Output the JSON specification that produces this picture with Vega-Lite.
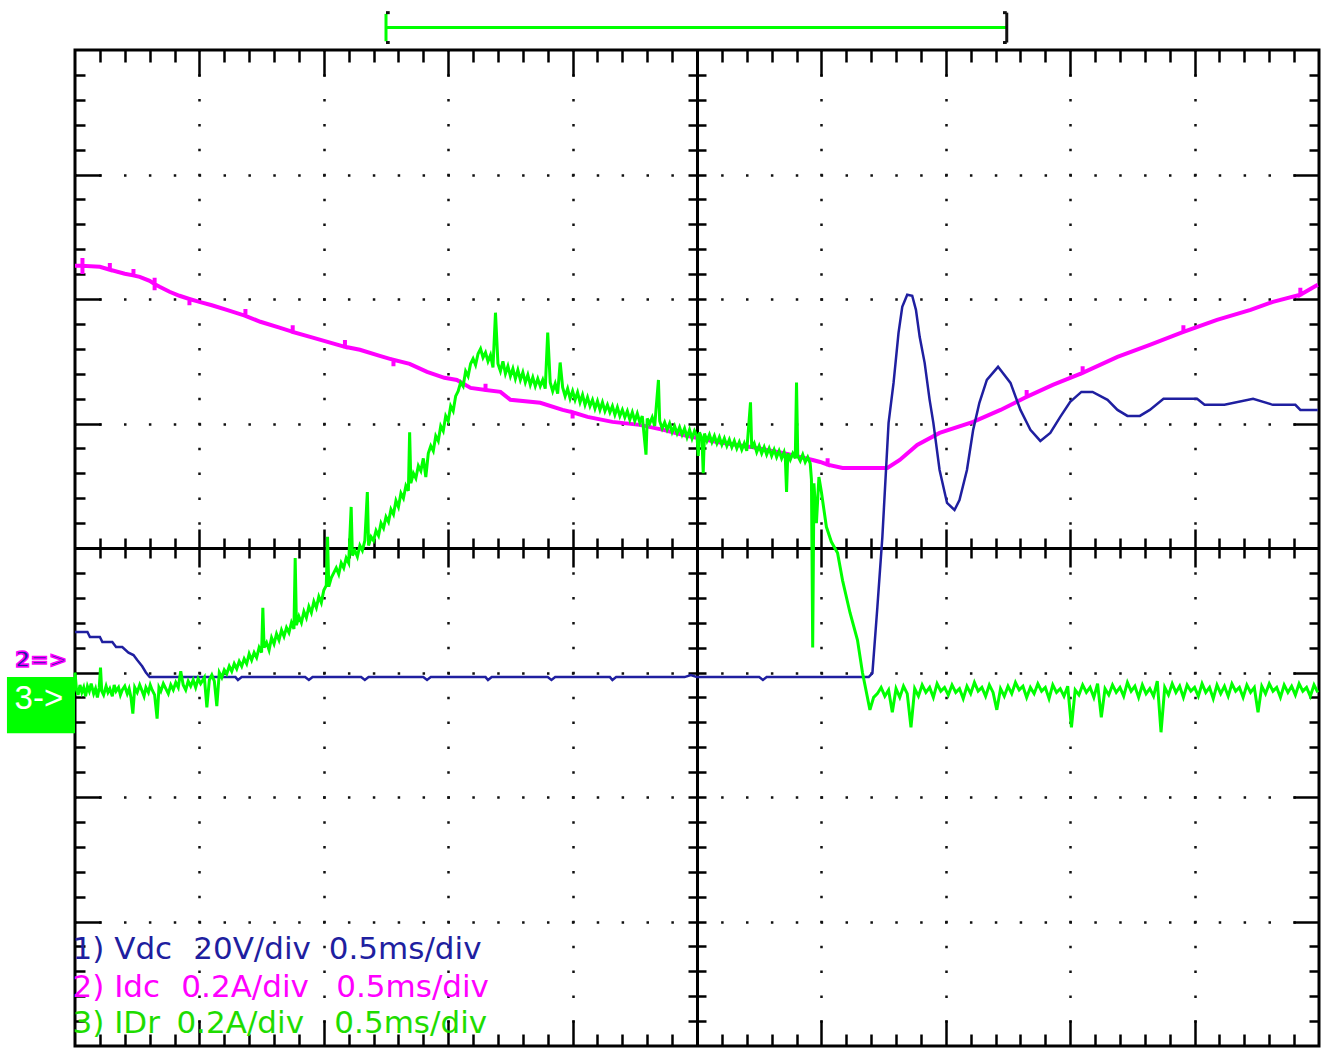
{
  "$schema": "https://vega.github.io/schema/vega-lite/v6.json",
  "width": 1244,
  "height": 996,
  "autosize": {"type": "none"},
  "padding": {"left": 75, "top": 50, "right": 13, "bottom": 2},
  "background": "white",
  "config": {"view": {"stroke": "#000", "strokeWidth": 3}},
  "datasets": {
    "vdc": [
      {"t":0,"v":-0.675},{"t":0.1,"v":-0.675},{"t":0.12,"v":-0.715},{"t":0.2,"v":-0.715},{"t":0.22,"v":-0.756},{"t":0.3,"v":-0.756},{"t":0.33,"v":-0.796},{"t":0.38,"v":-0.796},{"t":0.43,"v":-0.84},{"t":0.47,"v":-0.86},{"t":0.5,"v":-0.9},{"t":0.54,"v":-0.95},{"t":0.57,"v":-1.0},{"t":0.6,"v":-1.037},
      {"t":1.0,"v":-1.037},{"t":1.29,"v":-1.037},{"t":1.31,"v":-1.06},{"t":1.34,"v":-1.037},{"t":1.85,"v":-1.037},{"t":1.88,"v":-1.06},{"t":1.91,"v":-1.037},{"t":2.3,"v":-1.037},{"t":2.33,"v":-1.06},{"t":2.36,"v":-1.037},{"t":2.8,"v":-1.037},{"t":2.83,"v":-1.06},{"t":2.86,"v":-1.037},{"t":3.3,"v":-1.037},{"t":3.32,"v":-1.06},{"t":3.35,"v":-1.037},{"t":3.8,"v":-1.037},{"t":3.83,"v":-1.06},{"t":3.86,"v":-1.037},{"t":4.3,"v":-1.037},{"t":4.32,"v":-1.06},{"t":4.35,"v":-1.037},{"t":4.9,"v":-1.037},{"t":4.95,"v":-1.02},{"t":5.0,"v":-1.037},{"t":5.5,"v":-1.037},{"t":5.53,"v":-1.06},{"t":5.56,"v":-1.037},{"t":6.0,"v":-1.037},{"t":6.38,"v":-1.037},
      {"t":6.41,"v":-1.005},{"t":6.45,"v":-0.474},{"t":6.49,"v":0.088},{"t":6.54,"v":1.005},{"t":6.58,"v":1.326},{"t":6.62,"v":1.728},{"t":6.65,"v":1.937},{"t":6.69,"v":2.034},{"t":6.73,"v":2.026},{"t":6.76,"v":1.913},{"t":6.79,"v":1.696},{"t":6.83,"v":1.487},{"t":6.87,"v":1.19},{"t":6.9,"v":1.005},{"t":6.95,"v":0.627},{"t":7.01,"v":0.362},{"t":7.07,"v":0.305},{"t":7.11,"v":0.386},{"t":7.17,"v":0.627},{"t":7.22,"v":0.949},{"t":7.27,"v":1.166},{"t":7.33,"v":1.35},{"t":7.42,"v":1.455},{"t":7.52,"v":1.326},{"t":7.6,"v":1.109},{"t":7.68,"v":0.949},{"t":7.76,"v":0.86},{"t":7.84,"v":0.924},{"t":7.92,"v":1.053},{"t":8.0,"v":1.174},{"t":8.09,"v":1.254},{"t":8.18,"v":1.254},{"t":8.3,"v":1.19},{"t":8.38,"v":1.109},{"t":8.46,"v":1.061},{"t":8.56,"v":1.061},{"t":8.64,"v":1.109},{"t":8.75,"v":1.198},{"t":9.02,"v":1.198},{"t":9.08,"v":1.15},{"t":9.24,"v":1.15},{"t":9.47,"v":1.198},{"t":9.63,"v":1.15},{"t":9.81,"v":1.15},{"t":9.85,"v":1.109},{"t":9.99,"v":1.109}
    ],
    "idc": [
      {"t":0,"v":2.267},{"t":0.06,"v":2.267},{"t":0.06,"v":2.33},{"t":0.06,"v":2.2},{"t":0.06,"v":2.267},{"t":0.2,"v":2.259},{"t":0.28,"v":2.235},{"t":0.28,"v":2.29},{"t":0.28,"v":2.235},{"t":0.4,"v":2.203},{"t":0.47,"v":2.19},{"t":0.47,"v":2.24},{"t":0.47,"v":2.19},{"t":0.52,"v":2.178},{"t":0.6,"v":2.146},{"t":0.64,"v":2.12},{"t":0.64,"v":2.17},{"t":0.64,"v":2.07},{"t":0.64,"v":2.12},{"t":0.68,"v":2.098},{"t":0.76,"v":2.058},{"t":0.84,"v":2.026},{"t":0.92,"v":2.0},{"t":0.92,"v":1.95},{"t":0.92,"v":2.0},{"t":1.0,"v":1.977},{"t":1.1,"v":1.95},{"t":1.22,"v":1.913},{"t":1.37,"v":1.865},{"t":1.37,"v":1.92},{"t":1.37,"v":1.865},{"t":1.49,"v":1.817},{"t":1.65,"v":1.768},{"t":1.75,"v":1.736},{"t":1.75,"v":1.79},{"t":1.75,"v":1.736},{"t":1.89,"v":1.696},{"t":2.03,"v":1.656},{"t":2.17,"v":1.616},{"t":2.17,"v":1.67},{"t":2.17,"v":1.616},{"t":2.29,"v":1.592},{"t":2.45,"v":1.543},{"t":2.56,"v":1.511},{"t":2.56,"v":1.46},{"t":2.56,"v":1.511},{"t":2.69,"v":1.479},{"t":2.83,"v":1.415},{"t":2.97,"v":1.367},{"t":3.07,"v":1.35},{"t":3.18,"v":1.286},{"t":3.3,"v":1.27},{"t":3.3,"v":1.32},{"t":3.3,"v":1.27},{"t":3.42,"v":1.254},{"t":3.5,"v":1.19},{"t":3.74,"v":1.166},{"t":3.92,"v":1.109},{"t":4.0,"v":1.09},{"t":4.0,"v":1.04},{"t":4.0,"v":1.09},{"t":4.12,"v":1.053},{"t":4.32,"v":1.013},{"t":4.54,"v":0.989},{"t":4.73,"v":0.949},{"t":4.89,"v":0.908},{"t":5.16,"v":0.852},{"t":5.43,"v":0.812},{"t":5.69,"v":0.764},{"t":5.93,"v":0.707},{"t":5.99,"v":0.691},{"t":6.05,"v":0.67},{"t":6.05,"v":0.72},{"t":6.05,"v":0.67},{"t":6.17,"v":0.643},{"t":6.53,"v":0.643},{"t":6.63,"v":0.707},{"t":6.77,"v":0.828},{"t":6.95,"v":0.924},{"t":7.22,"v":1.013},{"t":7.44,"v":1.109},{"t":7.65,"v":1.214},{"t":7.65,"v":1.27},{"t":7.65,"v":1.214},{"t":7.86,"v":1.31},{"t":8.1,"v":1.407},{"t":8.1,"v":1.46},{"t":8.1,"v":1.407},{"t":8.38,"v":1.535},{"t":8.64,"v":1.632},{"t":8.91,"v":1.736},{"t":8.91,"v":1.79},{"t":8.91,"v":1.736},{"t":9.18,"v":1.833},{"t":9.45,"v":1.913},{"t":9.63,"v":1.977},{"t":9.85,"v":2.034},{"t":9.85,"v":2.09},{"t":9.85,"v":2.034},{"t":9.99,"v":2.114}
    ],
    "idr": [
      {"t":0.0,"v":-1.0},{"t":0.012,"v":-1.14},{"t":0.025,"v":-1.18},{"t":0.04,"v":-1.1},{"t":0.055,"v":-1.16},{"t":0.07,"v":-1.12},{"t":0.085,"v":-1.19},{"t":0.1,"v":-1.11},{"t":0.115,"v":-1.15},{"t":0.13,"v":-1.09},{"t":0.15,"v":-1.17},{"t":0.165,"v":-1.13},{"t":0.18,"v":-1.2},{"t":0.195,"v":-1.12},{"t":0.205,"v":-0.96},{"t":0.215,"v":-1.15},{"t":0.23,"v":-1.18},{"t":0.25,"v":-1.11},{"t":0.265,"v":-1.16},{"t":0.28,"v":-1.13},{"t":0.3,"v":-1.19},{"t":0.315,"v":-1.1},{"t":0.33,"v":-1.15},{"t":0.35,"v":-1.12},{"t":0.365,"v":-1.18},{"t":0.38,"v":-1.14},{"t":0.4,"v":-1.11},{"t":0.42,"v":-1.17},{"t":0.435,"v":-1.13},{"t":0.45,"v":-1.2},{"t":0.465,"v":-1.33},{"t":0.48,"v":-1.12},{"t":0.5,"v":-1.16},{"t":0.52,"v":-1.1},{"t":0.54,"v":-1.15},{"t":0.555,"v":-1.19},{"t":0.57,"v":-1.12},{"t":0.59,"v":-1.16},{"t":0.605,"v":-1.1},{"t":0.62,"v":-1.14},{"t":0.64,"v":-1.18},{"t":0.66,"v":-1.37},{"t":0.675,"v":-1.12},{"t":0.69,"v":-1.15},{"t":0.71,"v":-1.09},{"t":0.73,"v":-1.13},{"t":0.75,"v":-1.17},{"t":0.77,"v":-1.1},{"t":0.79,"v":-1.14},{"t":0.81,"v":-1.08},{"t":0.83,"v":-1.12},{"t":0.85,"v":-0.99},{"t":0.87,"v":-1.1},{"t":0.89,"v":-1.14},{"t":0.91,"v":-1.07},{"t":0.93,"v":-1.11},{"t":0.95,"v":-1.06},{"t":0.97,"v":-1.12},{"t":0.99,"v":-1.05},{"t":1.01,"v":-1.09},{"t":1.04,"v":-1.04},{"t":1.06,"v":-1.28},{"t":1.08,"v":-1.06},{"t":1.1,"v":-1.02},{"t":1.12,"v":-1.07},{"t":1.14,"v":-1.27},{"t":1.16,"v":-1.0},{"t":1.18,"v":-1.04},{"t":1.2,"v":-0.98},
      {"t":1.22,"v":-1.01},{"t":1.24,"v":-0.95},{"t":1.26,"v":-0.99},{"t":1.28,"v":-0.93},{"t":1.3,"v":-0.97},{"t":1.32,"v":-0.91},{"t":1.34,"v":-0.95},{"t":1.36,"v":-0.89},{"t":1.38,"v":-0.93},{"t":1.4,"v":-0.85},{"t":1.42,"v":-0.9},{"t":1.44,"v":-0.84},{"t":1.46,"v":-0.88},{"t":1.48,"v":-0.8},{"t":1.5,"v":-0.84},{"t":1.51,"v":-0.48},{"t":1.52,"v":-0.8},{"t":1.54,"v":-0.76},{"t":1.56,"v":-0.82},{"t":1.58,"v":-0.72},{"t":1.6,"v":-0.77},{"t":1.62,"v":-0.69},{"t":1.64,"v":-0.74},{"t":1.66,"v":-0.66},{"t":1.68,"v":-0.71},{"t":1.7,"v":-0.64},{"t":1.72,"v":-0.68},{"t":1.74,"v":-0.6},{"t":1.76,"v":-0.65},{"t":1.77,"v":-0.08},{"t":1.78,"v":-0.62},{"t":1.8,"v":-0.55},{"t":1.82,"v":-0.6},{"t":1.84,"v":-0.51},{"t":1.86,"v":-0.56},{"t":1.88,"v":-0.47},{"t":1.9,"v":-0.52},{"t":1.92,"v":-0.43},{"t":1.94,"v":-0.48},{"t":1.96,"v":-0.39},{"t":1.98,"v":-0.44},{"t":2.0,"v":-0.34},{"t":2.02,"v":-0.3},{"t":2.03,"v":0.09},{"t":2.04,"v":-0.31},{"t":2.06,"v":-0.24},{"t":2.08,"v":-0.2},{"t":2.1,"v":-0.16},{"t":2.12,"v":-0.21},{"t":2.14,"v":-0.12},{"t":2.16,"v":-0.16},{"t":2.18,"v":-0.08},{"t":2.2,"v":-0.12},{"t":2.22,"v":0.33},{"t":2.23,"v":-0.06},{"t":2.25,"v":-0.02},{"t":2.27,"v":-0.07},{"t":2.29,"v":0.02},{"t":2.31,"v":-0.02},{"t":2.33,"v":0.06},{"t":2.35,"v":0.45},{"t":2.36,"v":0.02},{"t":2.38,"v":0.09},{"t":2.4,"v":0.06},{"t":2.42,"v":0.14},{"t":2.44,"v":0.1},{"t":2.46,"v":0.2},{"t":2.48,"v":0.16},{"t":2.5,"v":0.25},{"t":2.52,"v":0.21},{"t":2.54,"v":0.31},{"t":2.56,"v":0.27},{"t":2.58,"v":0.38},{"t":2.6,"v":0.33},{"t":2.62,"v":0.44},{"t":2.64,"v":0.4},{"t":2.66,"v":0.5},{"t":2.68,"v":0.46},{"t":2.69,"v":0.93},{"t":2.7,"v":0.52},{"t":2.72,"v":0.6},{"t":2.74,"v":0.56},{"t":2.76,"v":0.66},{"t":2.78,"v":0.62},{"t":2.8,"v":0.72},{"t":2.82,"v":0.57},{"t":2.84,"v":0.76},{"t":2.86,"v":0.82},{"t":2.88,"v":0.78},{"t":2.9,"v":0.9},{"t":2.92,"v":0.86},{"t":2.94,"v":0.98},{"t":2.96,"v":0.94},{"t":2.98,"v":1.06},{"t":3.0,"v":1.02},{"t":3.02,"v":1.14},{"t":3.04,"v":1.1},{"t":3.06,"v":1.22},{"t":3.08,"v":1.26},{"t":3.1,"v":1.33},{"t":3.12,"v":1.3},{"t":3.14,"v":1.42},{"t":3.16,"v":1.38},{"t":3.18,"v":1.48},{"t":3.2,"v":1.52},{"t":3.22,"v":1.47},{"t":3.24,"v":1.56},{"t":3.26,"v":1.6},{"t":3.28,"v":1.53},{"t":3.3,"v":1.57},{"t":3.32,"v":1.5},{"t":3.34,"v":1.55},{"t":3.36,"v":1.45},{"t":3.38,"v":1.89},{"t":3.4,"v":1.48},{"t":3.42,"v":1.42},{"t":3.44,"v":1.5},{"t":3.46,"v":1.4},{"t":3.48,"v":1.46},{"t":3.5,"v":1.38},{"t":3.52,"v":1.44},{"t":3.54,"v":1.36},{"t":3.56,"v":1.43},{"t":3.58,"v":1.35},{"t":3.6,"v":1.41},{"t":3.62,"v":1.33},{"t":3.64,"v":1.39},{"t":3.66,"v":1.31},{"t":3.68,"v":1.37},{"t":3.7,"v":1.3},{"t":3.72,"v":1.36},{"t":3.74,"v":1.3},{"t":3.76,"v":1.35},{"t":3.78,"v":1.28},{"t":3.8,"v":1.73},{"t":3.82,"v":1.33},{"t":3.84,"v":1.26},{"t":3.86,"v":1.32},{"t":3.88,"v":1.24},{"t":3.9,"v":1.49},{"t":3.92,"v":1.29},{"t":3.94,"v":1.22},{"t":3.96,"v":1.28},{"t":3.98,"v":1.2},{"t":4.0,"v":1.26},{"t":4.02,"v":1.19},{"t":4.04,"v":1.25},{"t":4.06,"v":1.17},{"t":4.08,"v":1.23},{"t":4.1,"v":1.15},{"t":4.12,"v":1.21},{"t":4.14,"v":1.14},{"t":4.16,"v":1.19},{"t":4.18,"v":1.12},{"t":4.2,"v":1.18},{"t":4.22,"v":1.11},{"t":4.24,"v":1.17},{"t":4.26,"v":1.1},{"t":4.28,"v":1.15},{"t":4.3,"v":1.09},{"t":4.32,"v":1.14},{"t":4.34,"v":1.07},{"t":4.36,"v":1.13},{"t":4.38,"v":1.06},{"t":4.4,"v":1.11},{"t":4.42,"v":1.05},{"t":4.44,"v":1.1},{"t":4.46,"v":1.03},{"t":4.48,"v":1.09},{"t":4.5,"v":1.02},{"t":4.52,"v":1.08},{"t":4.54,"v":1.01},{"t":4.56,"v":1.06},{"t":4.59,"v":0.75},{"t":4.6,"v":1.04},{"t":4.62,"v":1.0},{"t":4.64,"v":1.05},{"t":4.66,"v":0.98},{"t":4.69,"v":1.35},{"t":4.7,"v":1.02},{"t":4.72,"v":0.96},{"t":4.74,"v":1.01},{"t":4.76,"v":0.95},{"t":4.78,"v":1.0},{"t":4.8,"v":0.93},{"t":4.82,"v":0.98},{"t":4.84,"v":0.92},{"t":4.86,"v":0.97},{"t":4.88,"v":0.91},{"t":4.9,"v":0.96},{"t":4.92,"v":0.89},{"t":4.94,"v":0.95},{"t":4.96,"v":0.88},{"t":4.98,"v":0.94},{"t":5.0,"v":0.9},{"t":5.01,"v":0.74},{"t":5.02,"v":0.93},{"t":5.04,"v":0.88},{"t":5.05,"v":0.6},{"t":5.06,"v":0.92},{"t":5.08,"v":0.86},{"t":5.1,"v":0.91},{"t":5.12,"v":0.85},{"t":5.14,"v":0.9},{"t":5.16,"v":0.84},{"t":5.18,"v":0.89},{"t":5.2,"v":0.83},{"t":5.22,"v":0.88},{"t":5.24,"v":0.82},{"t":5.26,"v":0.87},{"t":5.28,"v":0.81},{"t":5.3,"v":0.86},{"t":5.32,"v":0.8},{"t":5.34,"v":0.85},{"t":5.36,"v":0.79},{"t":5.38,"v":0.84},{"t":5.4,"v":0.78},{"t":5.43,"v":1.17},{"t":5.44,"v":0.8},{"t":5.46,"v":0.84},{"t":5.48,"v":0.77},{"t":5.5,"v":0.82},{"t":5.52,"v":0.76},{"t":5.54,"v":0.81},{"t":5.56,"v":0.75},{"t":5.58,"v":0.8},{"t":5.6,"v":0.74},{"t":5.62,"v":0.79},{"t":5.64,"v":0.73},{"t":5.66,"v":0.78},{"t":5.68,"v":0.72},{"t":5.7,"v":0.77},{"t":5.71,"v":0.72},{"t":5.72,"v":0.45},{"t":5.73,"v":0.76},{"t":5.75,"v":0.71},{"t":5.77,"v":0.76},{"t":5.79,"v":0.72},{"t":5.8,"v":1.33},{"t":5.81,"v":0.74},{"t":5.83,"v":0.7},{"t":5.85,"v":0.75},{"t":5.87,"v":0.69},{"t":5.89,"v":0.73},{"t":5.91,"v":0.68},{"t":5.92,"v":0.55},{"t":5.93,"v":-0.8},{"t":5.94,"v":0.52},{"t":5.96,"v":0.2},{"t":5.98,"v":0.57},{"t":6.0,"v":0.45},{"t":6.04,"v":0.17},{"t":6.08,"v":0.05},{"t":6.13,"v":-0.04},{"t":6.17,"v":-0.26},{"t":6.23,"v":-0.52},{"t":6.29,"v":-0.74},{"t":6.33,"v":-1.0},{"t":6.39,"v":-1.3},{"t":6.42,"v":-1.2},{"t":6.45,"v":-1.17},
      {"t":6.48,"v":-1.12},{"t":6.51,"v":-1.19},{"t":6.54,"v":-1.14},{"t":6.57,"v":-1.32},{"t":6.6,"v":-1.13},{"t":6.63,"v":-1.2},{"t":6.66,"v":-1.11},{"t":6.69,"v":-1.17},{"t":6.72,"v":-1.44},{"t":6.75,"v":-1.13},{"t":6.78,"v":-1.19},{"t":6.81,"v":-1.1},{"t":6.84,"v":-1.16},{"t":6.87,"v":-1.12},{"t":6.9,"v":-1.2},{"t":6.93,"v":-1.09},{"t":6.96,"v":-1.15},{"t":6.99,"v":-1.12},{"t":7.02,"v":-1.18},{"t":7.05,"v":-1.1},{"t":7.08,"v":-1.16},{"t":7.11,"v":-1.13},{"t":7.14,"v":-1.21},{"t":7.17,"v":-1.11},{"t":7.2,"v":-1.17},{"t":7.23,"v":-1.08},{"t":7.26,"v":-1.15},{"t":7.29,"v":-1.12},{"t":7.32,"v":-1.19},{"t":7.35,"v":-1.1},{"t":7.38,"v":-1.16},{"t":7.41,"v":-1.3},{"t":7.44,"v":-1.13},{"t":7.47,"v":-1.19},{"t":7.5,"v":-1.11},{"t":7.53,"v":-1.17},{"t":7.56,"v":-1.08},{"t":7.59,"v":-1.14},{"t":7.62,"v":-1.11},{"t":7.65,"v":-1.2},{"t":7.68,"v":-1.12},{"t":7.71,"v":-1.17},{"t":7.74,"v":-1.09},{"t":7.77,"v":-1.15},{"t":7.8,"v":-1.12},{"t":7.83,"v":-1.21},{"t":7.86,"v":-1.1},{"t":7.89,"v":-1.16},{"t":7.92,"v":-1.13},{"t":7.95,"v":-1.19},{"t":7.98,"v":-1.11},{"t":8.01,"v":-1.44},{"t":8.04,"v":-1.14},{"t":8.07,"v":-1.18},{"t":8.1,"v":-1.1},{"t":8.13,"v":-1.16},{"t":8.16,"v":-1.12},{"t":8.19,"v":-1.2},{"t":8.22,"v":-1.09},{"t":8.25,"v":-1.36},{"t":8.28,"v":-1.13},{"t":8.31,"v":-1.18},{"t":8.34,"v":-1.1},{"t":8.37,"v":-1.16},{"t":8.4,"v":-1.12},{"t":8.43,"v":-1.19},{"t":8.46,"v":-1.08},{"t":8.49,"v":-1.15},{"t":8.52,"v":-1.11},{"t":8.55,"v":-1.2},{"t":8.58,"v":-1.1},{"t":8.61,"v":-1.17},{"t":8.64,"v":-1.13},{"t":8.67,"v":-1.19},{"t":8.7,"v":-1.07},{"t":8.73,"v":-1.48},{"t":8.76,"v":-1.12},{"t":8.79,"v":-1.18},{"t":8.82,"v":-1.09},{"t":8.85,"v":-1.16},{"t":8.88,"v":-1.11},{"t":8.91,"v":-1.2},{"t":8.94,"v":-1.1},{"t":8.97,"v":-1.15},{"t":9.0,"v":-1.12},{"t":9.03,"v":-1.19},{"t":9.06,"v":-1.09},{"t":9.09,"v":-1.16},{"t":9.12,"v":-1.12},{"t":9.15,"v":-1.21},{"t":9.18,"v":-1.1},{"t":9.21,"v":-1.17},{"t":9.24,"v":-1.11},{"t":9.27,"v":-1.19},{"t":9.3,"v":-1.09},{"t":9.33,"v":-1.15},{"t":9.36,"v":-1.12},{"t":9.39,"v":-1.2},{"t":9.42,"v":-1.1},{"t":9.45,"v":-1.16},{"t":9.48,"v":-1.12},{"t":9.51,"v":-1.32},{"t":9.54,"v":-1.11},{"t":9.57,"v":-1.17},{"t":9.6,"v":-1.09},{"t":9.63,"v":-1.15},{"t":9.66,"v":-1.12},{"t":9.69,"v":-1.2},{"t":9.72,"v":-1.1},{"t":9.75,"v":-1.16},{"t":9.78,"v":-1.11},{"t":9.81,"v":-1.18},{"t":9.84,"v":-1.09},{"t":9.87,"v":-1.15},{"t":9.9,"v":-1.12},{"t":9.93,"v":-1.19},{"t":9.96,"v":-1.1},{"t":9.99,"v":-1.16}
    ],
    "legend": [
      {"t":-0.02,"v":-3.304,"label":"1) Vdc","ch":"1"},
      {"t":0.95,"v":-3.304,"label":"20V/div","ch":"1"},
      {"t":2.04,"v":-3.304,"label":"0.5ms/div","ch":"1"},
      {"t":-0.02,"v":-3.609,"label":"2) Idc","ch":"2"},
      {"t":0.855,"v":-3.609,"label":"0.2A/div","ch":"2"},
      {"t":2.1,"v":-3.609,"label":"0.5ms/div","ch":"2"},
      {"t":-0.02,"v":-3.899,"label":"3) IDr","ch":"3"},
      {"t":0.815,"v":-3.899,"label":"0.2A/div","ch":"3"},
      {"t":2.085,"v":-3.899,"label":"0.5ms/div","ch":"3"}
    ],
    "bracket_green": [
      {"t":2.5,"t2":7.49,"v":4.18,"v2":4.18},
      {"t":2.5,"t2":2.5,"v":4.07,"v2":4.29}
    ],
    "bracket_black": [
      {"t":7.49,"t2":7.49,"v":4.06,"v2":4.3},
      {"t":7.46,"t2":7.49,"v":4.3,"v2":4.3},
      {"t":7.46,"t2":7.49,"v":4.06,"v2":4.06},
      {"t":2.5,"t2":2.53,"v":4.3,"v2":4.3},
      {"t":2.5,"t2":2.53,"v":4.06,"v2":4.06}
    ],
    "marker_box": [
      {"t":-0.547,"t2":0,"v":-1.037,"v2":-1.487}
    ],
    "marker3": [
      {"t":-0.29,"v":-1.214,"label":"3->"}
    ],
    "marker2": [
      {"t":-0.273,"v":-0.9,"label":"2=>"}
    ]
  },
  "resolve": {"axis": {"x": "independent", "y": "independent"}},
  "layer": [
    {
      "data": {"name": "idc"},
      "mark": {"type": "line", "color": "#ff00ff", "strokeWidth": 4},
      "encoding": {
        "x": {"field": "t", "type": "quantitative", "scale": {"domain": [0, 10], "nice": false, "zero": false},
          "axis": {"title": null, "values": [1,2,3,4,5,6,7,8,9], "grid": true, "gridColor": "#111", "gridWidth": 2.5, "gridDash": [2.5, 22.4], "gridDashOffset": 1.25, "ticks": false, "labels": false, "domain": false}},
        "y": {"field": "v", "type": "quantitative", "scale": {"domain": [-4, 4], "nice": false, "zero": false},
          "axis": {"title": null, "values": [-3,-2,-1,0,1,2,3], "grid": true, "gridColor": "#111", "gridWidth": 2.5, "gridDash": [2.5, 22.38], "gridDashOffset": 1.25, "ticks": false, "labels": false, "domain": false}},
        "order": {"value": null}
      }
    },
    {
      "data": {"name": "vdc"},
      "mark": {"type": "line", "color": "#1f1fa0", "strokeWidth": 2.5},
      "encoding": {
        "x": {"field": "t", "type": "quantitative", "scale": {"domain": [0, 10], "nice": false, "zero": false},
          "axis": {"title": null, "orient": "bottom", "values": [0.2,0.4,0.6,0.8,1,1.2,1.4,1.6,1.8,2,2.2,2.4,2.6,2.8,3,3.2,3.4,3.6,3.8,4,4.2,4.4,4.6,4.8,5,5.2,5.4,5.6,5.8,6,6.2,6.4,6.6,6.8,7,7.2,7.4,7.6,7.8,8,8.2,8.4,8.6,8.8,9,9.2,9.4,9.6,9.8], "grid": false, "labels": false, "domain": false, "tickColor": "#000", "tickWidth": 2.5, "tickSize": {"condition": {"test": "datum.value % 1 === 0", "value": -26}, "value": -12}}},
        "y": {"field": "v", "type": "quantitative", "scale": {"domain": [-4, 4], "nice": false, "zero": false},
          "axis": {"title": null, "orient": "left", "values": [-3.8,-3.6,-3.4,-3.2,-3,-2.8,-2.6,-2.4,-2.2,-2,-1.8,-1.6,-1.4,-1.2,-1,-0.8,-0.6,-0.4,-0.2,0,0.2,0.4,0.6,0.8,1,1.2,1.4,1.6,1.8,2,2.2,2.4,2.6,2.8,3,3.2,3.4,3.6,3.8], "grid": false, "labels": false, "domain": false, "tickColor": "#000", "tickWidth": 2.5, "tickSize": {"condition": {"test": "datum.value % 1 === 0", "value": -26}, "value": -10}}},
        "order": {"value": null}
      }
    },
    {
      "data": {"name": "idr"},
      "mark": {"type": "line", "color": "#00ff00", "strokeWidth": 3},
      "encoding": {
        "x": {"field": "t", "type": "quantitative", "scale": {"domain": [0, 10], "nice": false, "zero": false},
          "axis": {"title": null, "orient": "top", "values": [0.2,0.4,0.6,0.8,1,1.2,1.4,1.6,1.8,2,2.2,2.4,2.6,2.8,3,3.2,3.4,3.6,3.8,4,4.2,4.4,4.6,4.8,5,5.2,5.4,5.6,5.8,6,6.2,6.4,6.6,6.8,7,7.2,7.4,7.6,7.8,8,8.2,8.4,8.6,8.8,9,9.2,9.4,9.6,9.8], "grid": false, "labels": false, "domain": false, "tickColor": "#000", "tickWidth": 2.5, "tickSize": {"condition": {"test": "datum.value % 1 === 0", "value": -26}, "value": -12}}},
        "y": {"field": "v", "type": "quantitative", "scale": {"domain": [-4, 4], "nice": false, "zero": false},
          "axis": {"title": null, "orient": "right", "values": [-3.8,-3.6,-3.4,-3.2,-3,-2.8,-2.6,-2.4,-2.2,-2,-1.8,-1.6,-1.4,-1.2,-1,-0.8,-0.6,-0.4,-0.2,0,0.2,0.4,0.6,0.8,1,1.2,1.4,1.6,1.8,2,2.2,2.4,2.6,2.8,3,3.2,3.4,3.6,3.8], "grid": false, "labels": false, "domain": false, "tickColor": "#000", "tickWidth": 2.5, "tickSize": {"condition": {"test": "datum.value % 1 === 0", "value": -26}, "value": -10}}},
        "order": {"value": null}
      }
    },
    {
      "data": {"name": "legend"},
      "mark": {"type": "text", "align": "left", "baseline": "alphabetic", "font": "DejaVu Sans", "fontSize": 31},
      "encoding": {
        "x": {"field": "t", "type": "quantitative", "scale": {"domain": [0, 10], "nice": false, "zero": false},
          "axis": {"title": null, "orient": "bottom", "offset": -498, "values": [0.2,0.4,0.6,0.8,1,1.2,1.4,1.6,1.8,2,2.2,2.4,2.6,2.8,3,3.2,3.4,3.6,3.8,4,4.2,4.4,4.6,4.8,5,5.2,5.4,5.6,5.8,6,6.2,6.4,6.6,6.8,7,7.2,7.4,7.6,7.8,8,8.2,8.4,8.6,8.8,9,9.2,9.4,9.6,9.8], "grid": false, "labels": false, "domain": true, "domainColor": "#000", "domainWidth": 3, "tickColor": "#000", "tickWidth": 2.5, "tickSize": {"condition": {"test": "datum.value % 1 === 0", "value": 19}, "value": 10}}},
        "y": {"field": "v", "type": "quantitative", "scale": {"domain": [-4, 4], "nice": false, "zero": false},
          "axis": {"title": null, "orient": "left", "offset": -622, "values": [-3.8,-3.6,-3.4,-3.2,-3,-2.8,-2.6,-2.4,-2.2,-2,-1.8,-1.6,-1.4,-1.2,-1,-0.8,-0.6,-0.4,-0.2,0,0.2,0.4,0.6,0.8,1,1.2,1.4,1.6,1.8,2,2.2,2.4,2.6,2.8,3,3.2,3.4,3.6,3.8], "grid": false, "labels": false, "domain": true, "domainColor": "#000", "domainWidth": 3, "tickColor": "#000", "tickWidth": 2.5, "tickSize": 9}},
        "text": {"field": "label"},
        "color": {"field": "ch", "type": "nominal", "scale": {"domain": ["1","2","3"], "range": ["#1f1fa0","#ff00ff","#1edc00"]}, "legend": null}
      }
    },
    {
      "data": {"name": "bracket_green"},
      "mark": {"type": "rule", "color": "#00ff00", "strokeWidth": 3},
      "encoding": {
        "x": {"field": "t", "type": "quantitative", "scale": {"domain": [0, 10], "nice": false, "zero": false},
          "axis": {"title": null, "orient": "bottom", "offset": -498, "values": [0.2,0.4,0.6,0.8,1,1.2,1.4,1.6,1.8,2,2.2,2.4,2.6,2.8,3,3.2,3.4,3.6,3.8,4,4.2,4.4,4.6,4.8,5,5.2,5.4,5.6,5.8,6,6.2,6.4,6.6,6.8,7,7.2,7.4,7.6,7.8,8,8.2,8.4,8.6,8.8,9,9.2,9.4,9.6,9.8], "grid": false, "labels": false, "domain": true, "domainColor": "#000", "domainWidth": 3, "tickColor": "#000", "tickWidth": 2.5, "tickSize": {"condition": {"test": "datum.value % 1 === 0", "value": -19}, "value": -10}}},
        "x2": {"field": "t2"},
        "y": {"field": "v", "type": "quantitative", "scale": {"domain": [-4, 4], "nice": false, "zero": false},
          "axis": {"title": null, "orient": "left", "offset": -622, "values": [-3.8,-3.6,-3.4,-3.2,-3,-2.8,-2.6,-2.4,-2.2,-2,-1.8,-1.6,-1.4,-1.2,-1,-0.8,-0.6,-0.4,-0.2,0,0.2,0.4,0.6,0.8,1,1.2,1.4,1.6,1.8,2,2.2,2.4,2.6,2.8,3,3.2,3.4,3.6,3.8], "grid": false, "labels": false, "domain": true, "domainColor": "#000", "domainWidth": 3, "tickColor": "#000", "tickWidth": 2.5, "tickSize": -9}},
        "y2": {"field": "v2"}
      }
    },
    {
      "data": {"name": "bracket_black"},
      "mark": {"type": "rule", "color": "#111", "strokeWidth": 3},
      "encoding": {
        "x": {"field": "t", "type": "quantitative", "axis": null},
        "x2": {"field": "t2"},
        "y": {"field": "v", "type": "quantitative", "axis": null},
        "y2": {"field": "v2"}
      }
    },
    {
      "data": {"name": "marker_box"},
      "mark": {"type": "rect", "color": "#00ff00"},
      "encoding": {
        "x": {"field": "t", "type": "quantitative", "axis": null},
        "x2": {"field": "t2"},
        "y": {"field": "v", "type": "quantitative", "axis": null},
        "y2": {"field": "v2"}
      }
    },
    {
      "data": {"name": "marker3"},
      "mark": {"type": "text", "color": "white", "font": "Liberation Sans", "fontSize": 33, "align": "center", "baseline": "middle"},
      "encoding": {
        "x": {"field": "t", "type": "quantitative", "axis": null},
        "y": {"field": "v", "type": "quantitative", "axis": null},
        "text": {"field": "label"}
      }
    },
    {
      "data": {"name": "marker2"},
      "mark": {"type": "text", "color": "#1f1fa0", "stroke": "#ff00ff", "strokeWidth": 1.5, "font": "DejaVu Sans", "fontWeight": "bold", "fontSize": 22, "align": "center", "baseline": "middle"},
      "encoding": {
        "x": {"field": "t", "type": "quantitative", "axis": null},
        "y": {"field": "v", "type": "quantitative", "axis": null},
        "text": {"field": "label"}
      }
    }
  ]
}
